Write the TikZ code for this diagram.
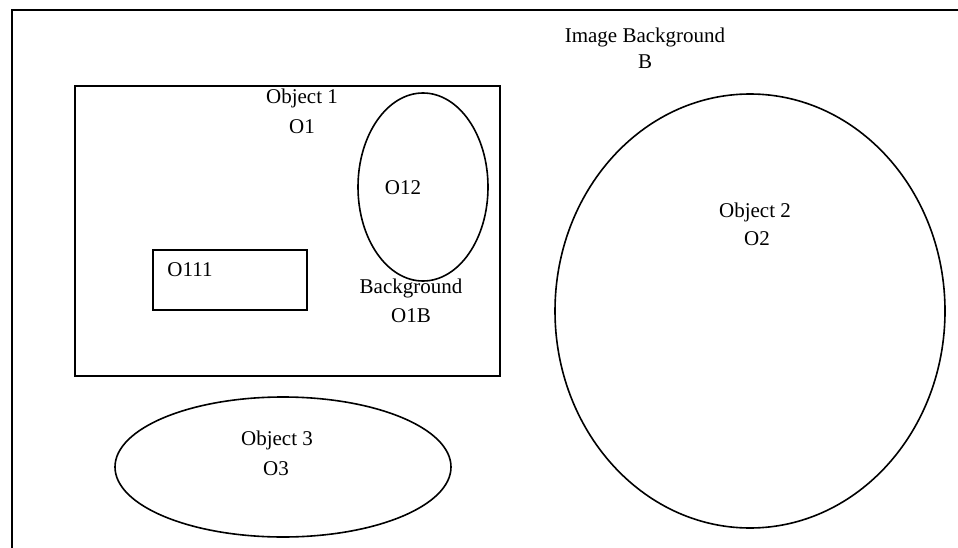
\documentclass[tikz,border=0pt]{standalone}
\usepackage{fontspec}
\setmainfont{Liberation Serif}
\begin{document}
\begin{tikzpicture}[x=1pt,y=-1pt,
  box/.style={draw=black,line width=2pt},
  oval/.style={draw=black,line width=1.6pt},
  lbl/.style={anchor=base,inner sep=0pt,font=\fontsize{21}{26}\selectfont}]
\useasboundingbox (0,0) rectangle (958,548);
% image frame (cut by the picture border at right and bottom)
\draw[box] (12,560) -- (12,10) -- (970,10);
% Object 1
\draw[box] (75,86) rectangle (500,376);
% O111
\draw[box] (153,250) rectangle (307,310);
% O12
\draw[oval] (423,187) ellipse [x radius=65, y radius=94];
% Object 2
\draw[oval] (750,311) ellipse [x radius=195, y radius=217];
% Object 3
\draw[oval] (283,467) ellipse [x radius=168, y radius=70];
% labels
\node[lbl] (ib1) at (645,43) {Image Background};
\node[lbl] (ib2) at (645,69) {B};
\node[lbl] (o1a) at (302,104) {Object 1};
\node[lbl] (o1b) at (302,134) {O1};
\node[lbl] (o12) at (403,195) {O12};
\node[lbl] (o1ba) at (411,293) {Background};
\node[lbl] (o1bb) at (411,322) {O1B};
\node[lbl] (o111) at (190,276) {O111};
\node[lbl] (o2a) at (755,218) {Object 2};
\node[lbl] (o2b) at (757,245) {O2};
\node[lbl] (o3a) at (277,445) {Object 3};
\node[lbl] (o3b) at (276,475) {O3};
\end{tikzpicture}
\end{document}
